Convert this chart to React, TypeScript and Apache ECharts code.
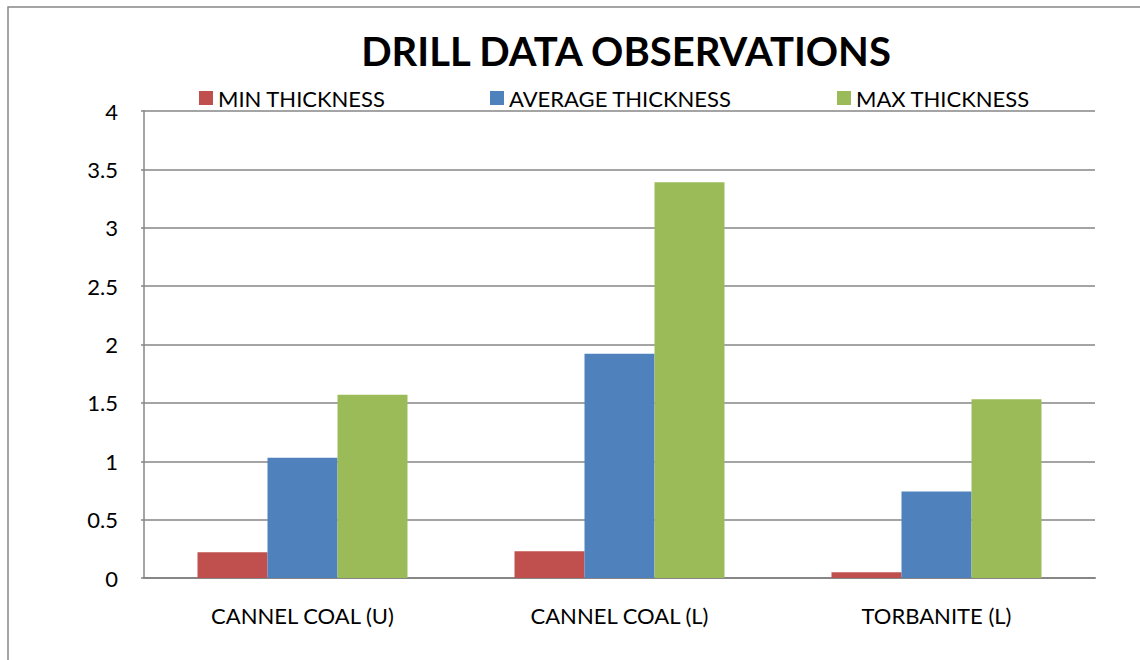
import React, { useEffect, useRef } from "react";
import * as echarts from "echarts";

const categories = ["CANNEL COAL (U)", "CANNEL COAL (L)", "TORBANITE (L)"];
const seriesNames = ["MIN THICKNESS", "AVERAGE THICKNESS", "MAX THICKNESS"];
const minThickness = [0.22, 0.23, 0.05];
const avgThickness = [1.03, 1.92, 0.74];
const maxThickness = [1.57, 3.39, 1.53];
const colors = ["#C0504D", "#4F81BD", "#9BBB59"];
const yTicks = { min: 0, max: 4, interval: 0.5 };

const FONT = "Lato, 'Open Sans', sans-serif";

export default function App() {
  const ref = useRef<HTMLDivElement>(null);
  useEffect(() => {
    if (!ref.current) return;
    const chart = echarts.init(ref.current, null, { renderer: "svg" });
    const values = [minThickness, avgThickness, maxThickness];
    const legendLefts = [194, 485, 832];
    chart.setOption({
      animation: false,
      backgroundColor: "#ffffff",
      textStyle: { fontFamily: FONT },
      title: {
        text: "DRILL DATA OBSERVATIONS",
        left: 621,
        textAlign: "center",
        top: 26,
        textStyle: { fontFamily: FONT, fontWeight: "bold", fontSize: 40, color: "#000" },
      },
      legend: seriesNames.map((n, i) => ({
        data: [n],
        left: legendLefts[i],
        top: 82,
        itemWidth: 14,
        itemHeight: 14,
        itemGap: 6,
        icon: "rect",
        textStyle: { fontFamily: FONT, fontSize: 22, color: "#000", padding: [2, 0, 0, 0] },
      })),
      grid: { left: 144, right: 45, top: 111, bottom: 82, containLabel: false },
      graphic: [
        {
          type: "rect",
          shape: { x: 8, y: 7, width: 1200, height: 700 },
          style: { fill: "none", stroke: "#868686", lineWidth: 1.5 },
          silent: true,
        },
      ],
      xAxis: {
        type: "category",
        data: categories,
        axisLine: { show: true, lineStyle: { color: "#868686", width: 2 } },
        axisTick: { show: false },
        axisLabel: { fontFamily: FONT, fontSize: 22, color: "#000", margin: 26 },
      },
      yAxis: {
        type: "value",
        min: yTicks.min,
        max: yTicks.max,
        interval: yTicks.interval,
        axisLine: { show: true, lineStyle: { color: "#868686", width: 1.5 } },
        axisTick: { show: true, length: 3, lineStyle: { color: "#868686", width: 1.5 } },
        axisLabel: { fontFamily: FONT, fontSize: 22, color: "#000", margin: 26 },
        splitLine: { show: true, lineStyle: { color: "#868686", width: 1.5 } },
      },
      series: seriesNames.map((n, i) => ({
        name: n,
        type: "bar",
        data: values[i],
        barWidth: 70,
        barGap: "0%",
        itemStyle: { color: colors[i] },
      })),
    });
    return () => chart.dispose();
  }, []);
  return (
    <div
      ref={ref}
      style={{ position: "absolute", left: 0, top: 0, width: 1140, height: 660 }}
    />
  );
}
